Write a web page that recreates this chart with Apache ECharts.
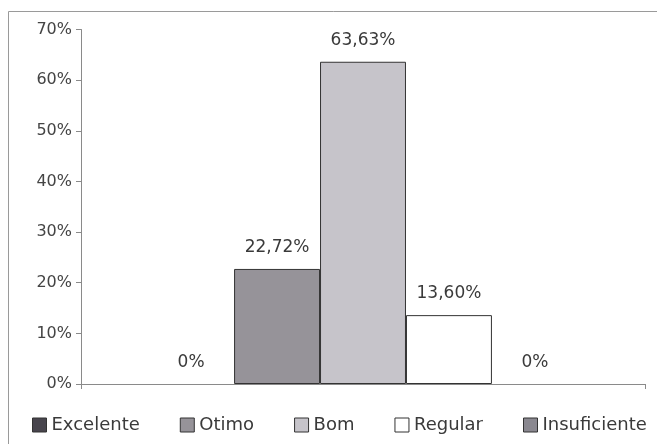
<!DOCTYPE html>
<html>
<head>
<meta charset="utf-8">
<script src="https://cdn.jsdelivr.net/npm/echarts@6/dist/echarts.min.js"></script>
<style>html,body{margin:0;padding:0;background:#fff;}#c{width:657px;height:444px;}</style>
</head>
<body>
<div id="c"></div>
<script>
var categories = [''];
var seriesNames = ['Excelente', 'Otimo', 'Bom', 'Regular', 'Insuficiente'];
var seriesValues = [0, 22.72, 63.63, 13.60, 0];
var valueLabels = ['0%', '22,72%', '63,63%', '13,60%', '0%'];
var yTicks = [0, 10, 20, 30, 40, 50, 60, 70];
var seriesColors = ['#48454d', '#969399', '#c6c4ca', '#ffffff', '#8a8890'];

var chart = echarts.init(document.getElementById('c'), null, {renderer: 'canvas'});
var FONT = 'DejaVu Sans';
var series = seriesNames.map(function (name, i) {
  return {
    name: name,
    type: 'bar',
    data: [seriesValues[i]],
    barGap: '0%',
    barCategoryGap: '23.8%',
    itemStyle: {color: seriesColors[i], borderColor: '#333', borderWidth: seriesValues[i] === 0 ? 0 : 1},
    label: {
      show: true,
      position: 'top',
      distance: 13,
      formatter: function () { return valueLabels[i]; },
      fontFamily: FONT,
      fontSize: 17,
      color: '#3a3a3a'
    },
    emphasis: {disabled: true},
    animation: false
  };
});

chart.setOption({
  animation: false,
  backgroundColor: '#ffffff',
  graphic: [{
    type: 'rect',
    shape: {x: 8.5, y: 11.5, width: 660, height: 450},
    style: {fill: 'none', stroke: '#9a9a9a', lineWidth: 1},
    silent: true
  }],
  grid: {left: 81, right: 12, top: 29.5, bottom: 60, containLabel: false},
  xAxis: {
    type: 'category',
    data: categories,
    axisLine: {lineStyle: {color: '#8a8a8a', width: 1}},
    axisTick: {show: true, length: 5, lineStyle: {color: '#8a8a8a'}},
    axisLabel: {show: false},
    splitLine: {show: false}
  },
  yAxis: {
    type: 'value',
    min: yTicks[0],
    max: yTicks[yTicks.length - 1],
    interval: 10,
    axisLine: {show: true, lineStyle: {color: '#8a8a8a', width: 1}},
    axisTick: {show: true, length: 5, lineStyle: {color: '#8a8a8a'}},
    splitLine: {show: false},
    axisLabel: {
      formatter: function (v) { return v + '%'; },
      fontFamily: FONT,
      fontSize: 16,
      color: '#444',
      margin: 9
    }
  },
  legend: {
    data: seriesNames,
    left: 27,
    top: 411,
    itemWidth: 14,
    itemHeight: 14,
    itemGap: 40,
    icon: 'rect',
    itemStyle: {borderColor: '#333', borderWidth: 1},
    textStyle: {fontFamily: FONT, fontSize: 18, color: '#3a3a3a', padding: [0, 0, 0, 0]},
    selectedMode: false
  },
  series: series
});
</script>
</body>
</html>
